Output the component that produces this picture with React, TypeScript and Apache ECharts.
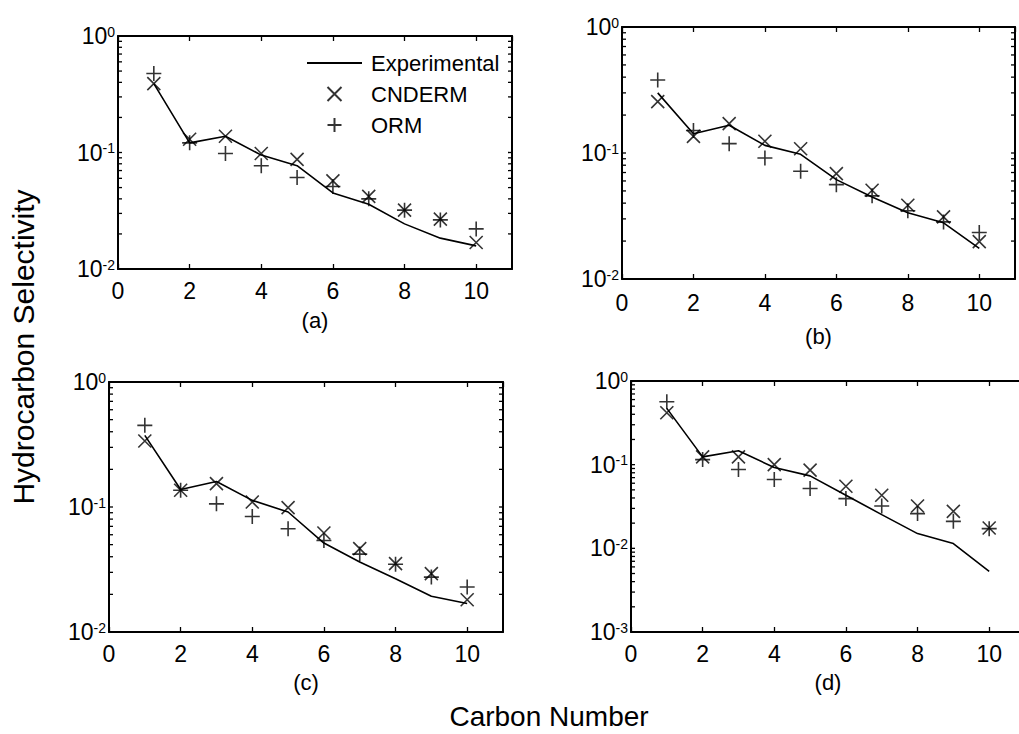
import React, { useEffect, useRef } from "react";
import * as echarts from "echarts";

const FONT = "'Liberation Sans', Arial, Helvetica, sans-serif";

const carbonNumber = [1, 2, 3, 4, 5, 6, 7, 8, 9, 10];

const expA = [0.39, 0.121, 0.138, 0.095, 0.077, 0.045, 0.036, 0.0244, 0.0184, 0.0158];
const cndA = [0.39, 0.13, 0.138, 0.098, 0.0874, 0.057, 0.042, 0.032, 0.0268, 0.0169];
const ormA = [0.476, 0.121, 0.098, 0.077, 0.061, 0.051, 0.04, 0.032, 0.0264, 0.0221];

const expB = [0.3, 0.142, 0.166, 0.115, 0.0976, 0.0615, 0.0448, 0.0335, 0.0279, 0.0175];
const cndB = [0.256, 0.1355, 0.171, 0.124, 0.108, 0.0686, 0.0506, 0.0385, 0.0311, 0.0198];
const ormB = [0.38, 0.151, 0.1186, 0.0913, 0.0716, 0.0561, 0.0457, 0.0348, 0.0284, 0.0234];

const expC = [0.374, 0.138, 0.16, 0.113, 0.0912, 0.0515, 0.0363, 0.0267, 0.0193, 0.0169];
const cndC = [0.337, 0.136, 0.154, 0.1096, 0.0988, 0.062, 0.0464, 0.0352, 0.0293, 0.0181];
const ormC = [0.45, 0.136, 0.106, 0.084, 0.067, 0.054, 0.042, 0.0348, 0.0275, 0.0229];

const expD = [0.471, 0.124, 0.1465, 0.0925, 0.0735, 0.0431, 0.0253, 0.015, 0.0114, 0.0053];
const cndD = [0.418, 0.124, 0.124, 0.1, 0.086, 0.0553, 0.0431, 0.0321, 0.0277, 0.0175];
const ormD = [0.565, 0.115, 0.0875, 0.0664, 0.0518, 0.0393, 0.0321, 0.026, 0.021, 0.0172];

const mantissas = [1, 2, 3, 4, 5, 6, 7, 8, 9];

const panelLabels = ["(a)", "(b)", "(c)", "(d)"];
const legendNames = ["Experimental", "CNDERM", "ORM"];

const CROSS = "path://M0,0L10,10M10,0L0,10";
const PLUS = "path://M5,0L5,10M0,5L10,5";
const LINE_ICON = "path://M0,0H55V2H0Z";

function logTickValues(minExp: number, maxExp: number): number[] {
  const out: number[] = [];
  for (let e = minExp; e < maxExp; e++) {
    for (const m of mantissas) out.push(Number((m * Math.pow(10, e)).toPrecision(6)));
  }
  out.push(Math.pow(10, maxExp));
  return out;
}

const panels = [
  { exp: expA, cnd: cndA, orm: ormA, minExp: -2, left: 118, top: 36, width: 394, height: 233, nameGap: 40, labelMargin: 10 },
  { exp: expB, cnd: cndB, orm: ormB, minExp: -2, left: 622, top: 27, width: 393, height: 252, nameGap: 46, labelMargin: 12 },
  { exp: expC, cnd: cndC, orm: ormC, minExp: -2, left: 109, top: 382, width: 394, height: 250, nameGap: 39, labelMargin: 10 },
  { exp: expD, cnd: cndD, orm: ormD, minExp: -3, left: 631, top: 381, width: 394, height: 251, nameGap: 39, labelMargin: 10 },
];

export default function App() {
  const ref = useRef<HTMLDivElement>(null);
  useEffect(() => {
    if (!ref.current) return;
    const chart = echarts.init(ref.current, null, { renderer: "svg" });
    const grid: any[] = [];
    const xAxis: any[] = [];
    const yAxis: any[] = [];
    const series: any[] = [];
    const boxLine = { color: "#000", width: 2 };
    const X_MAX = 11;
    panels.forEach((p, i) => {
      grid.push({ left: p.left, top: p.top, width: p.width, height: p.height, outerBoundsMode: "none", containLabel: false });
      const xb = xAxis.length;
      xAxis.push({
        type: "value", gridIndex: i, position: "bottom", min: 0, max: X_MAX, interval: 2,
        name: panelLabels[i], nameLocation: "middle", nameGap: p.nameGap, nameMoveOverlap: false,
        nameTextStyle: { fontFamily: FONT, fontSize: 22, color: "#000" },
        axisLine: { show: true, onZero: false, lineStyle: boxLine },
        axisTick: { show: true, inside: true, length: 5, lineStyle: { color: "#000", width: 1.3 } },
        axisLabel: {
          show: true, margin: p.labelMargin, fontFamily: FONT, fontSize: 23, color: "#000",
          showMaxLabel: false, hideOverlap: false,
          formatter: (v: number) => (v > 10 ? "" : String(v)),
        },
        splitLine: { show: false },
      });
      xAxis.push({
        type: "value", gridIndex: i, position: "top", min: 0, max: X_MAX, interval: 2,
        axisLine: { show: true, onZero: false, lineStyle: boxLine },
        axisTick: { show: true, inside: true, length: 5, lineStyle: { color: "#000", width: 1.3 } },
        axisLabel: { show: false },
        splitLine: { show: false },
      });
      const yl = yAxis.length;
      const ymin = Math.pow(10, p.minExp);
      yAxis.push({
        type: "log", logBase: 10, gridIndex: i, position: "left", min: ymin, max: 1,
        axisLine: { show: true, onZero: false, lineStyle: boxLine },
        axisTick: { show: false },
        axisLabel: {
          show: true, margin: 3,
          formatter: (v: number) => `{b|10}{s|${Math.round(Math.log10(v))}}`,
          rich: {
            b: { fontFamily: FONT, fontSize: 23, color: "#000", lineHeight: 23, padding: [10, 0, 10, 0], verticalAlign: "middle" },
            s: { fontFamily: FONT, fontSize: 14, color: "#000", lineHeight: 14, verticalAlign: "top" },
          },
        },
        splitLine: { show: false },
      });
      yAxis.push({
        type: "log", logBase: 10, gridIndex: i, position: "right", min: ymin, max: 1,
        axisLine: { show: true, onZero: false, lineStyle: boxLine },
        axisTick: { show: false },
        axisLabel: { show: false },
        splitLine: { show: false },
      });
      // log-axis ticks (1..9 per decade) on the left and right edges, placed through the axis scale
      series.push({
        type: "custom", xAxisIndex: xb, yAxisIndex: yl, silent: true, clip: false, z: 5,
        data: logTickValues(p.minExp, 0).map((v) => [0, v]),
        renderItem: (params: any, api: any) => {
          const v = api.value(1);
          const a = api.coord([0, v]);
          const b = api.coord([X_MAX, v]);
          const st = { stroke: "#000", lineWidth: 1.3 };
          return {
            type: "group",
            children: [
              { type: "line", shape: { x1: a[0], y1: a[1], x2: a[0] + 4, y2: a[1] }, style: st },
              { type: "line", shape: { x1: b[0] - 4, y1: b[1], x2: b[0], y2: b[1] }, style: st },
            ],
          };
        },
        tooltip: { show: false },
      });
      series.push({
        name: legendNames[0], type: "line", xAxisIndex: xb, yAxisIndex: yl,
        data: carbonNumber.map((c, k) => [c, p.exp[k]]),
        symbol: "none", showSymbol: false, lineStyle: { color: "#000", width: 1.6 },
        itemStyle: { color: "#000" }, silent: true, z: 3,
      });
      series.push({
        name: legendNames[1], type: "scatter", xAxisIndex: xb, yAxisIndex: yl,
        data: carbonNumber.map((c, k) => [c, p.cnd[k]]),
        symbol: CROSS, symbolSize: 13,
        itemStyle: { color: "rgba(0,0,0,0)", borderColor: "#000", borderWidth: 1.6 },
        silent: true, z: 4,
      });
      series.push({
        name: legendNames[2], type: "scatter", xAxisIndex: xb, yAxisIndex: yl,
        data: carbonNumber.map((c, k) => [c, p.orm[k]]),
        symbol: PLUS, symbolSize: 15,
        itemStyle: { color: "rgba(0,0,0,0)", borderColor: "#000", borderWidth: 1.6 },
        silent: true, z: 4,
      });
    });

    chart.setOption({
      animation: false,
      backgroundColor: "#fff",
      grid, xAxis, yAxis, series,
      legend: {
        data: [
          { name: legendNames[0], icon: LINE_ICON, itemStyle: { color: "#000" } },
          { name: legendNames[1] },
          { name: legendNames[2] },
        ],
        orient: "vertical", left: 307, top: 52, padding: 0,
        itemWidth: 55, itemHeight: 14, itemGap: 9, selectedMode: false,
        textStyle: { fontFamily: FONT, fontSize: 22, color: "#000", lineHeight: 22, padding: [0, 0, 0, 4] },
      },
      graphic: [
        {
          type: "text", x: 23, y: 347, rotation: Math.PI / 2,
          style: { text: "Hydrocarbon Selectivity", fontFamily: FONT, fontSize: 30, fill: "#000", align: "center", verticalAlign: "middle" },
        },
        {
          type: "text", x: 549, y: 716,
          style: { text: "Carbon Number", fontFamily: FONT, fontSize: 28, fill: "#000", align: "center", verticalAlign: "middle" },
        },
      ],
    });
    return () => chart.dispose();
  }, []);
  return <div ref={ref} style={{ position: "absolute", left: 0, top: 0, width: 1019, height: 734 }} />;
}
